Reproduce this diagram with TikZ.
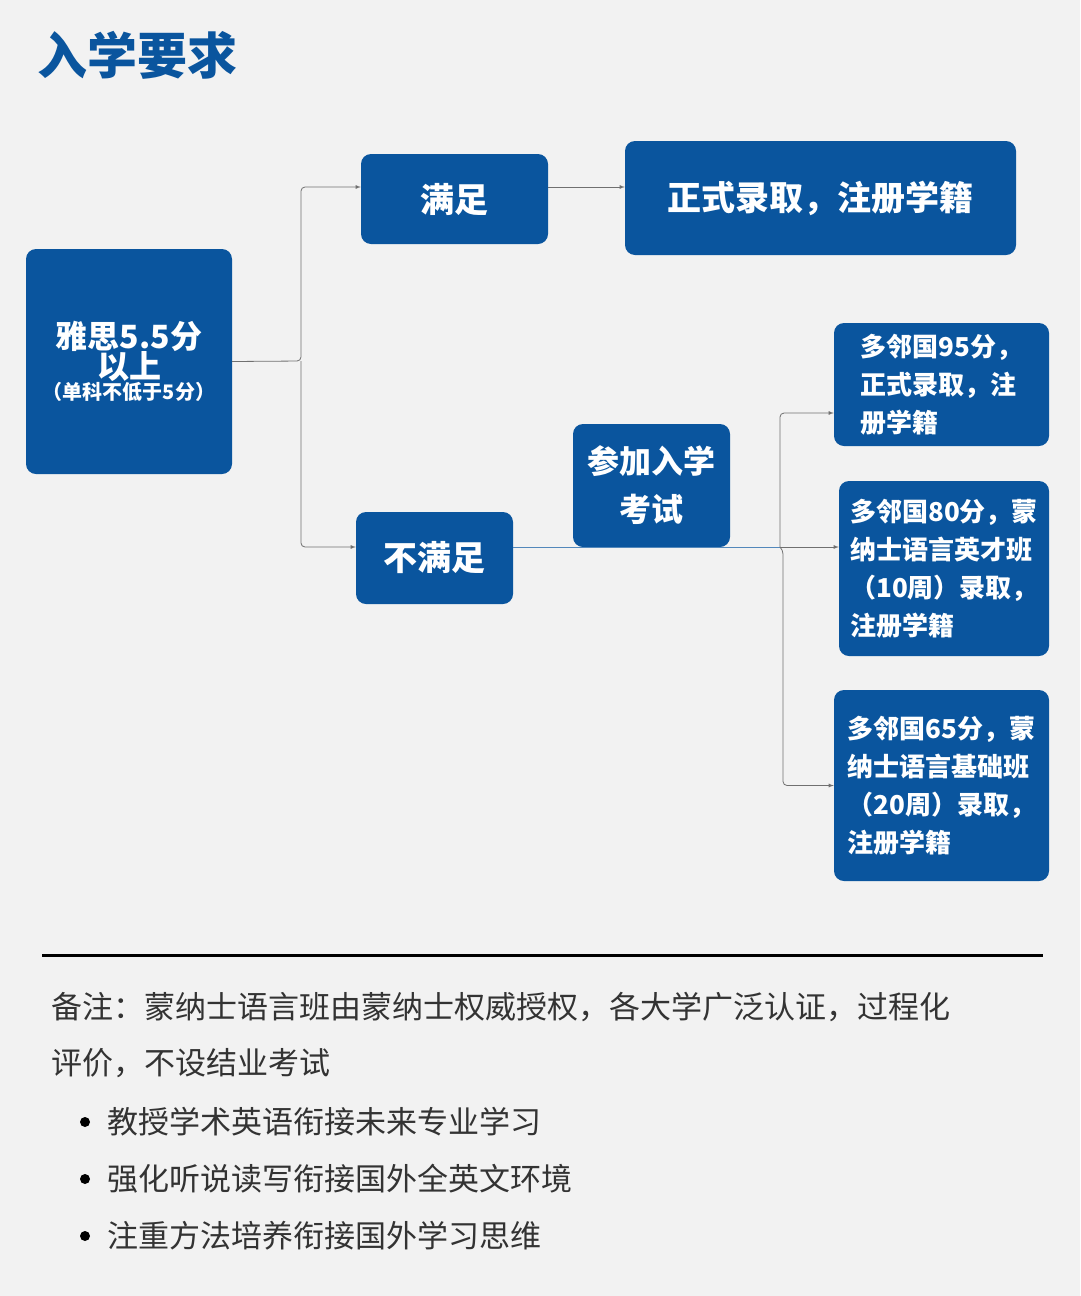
\documentclass[tikz,border=0pt]{standalone}
\usepackage{fontspec}
\setmainfont{Noto Sans CJK SC}
\newfontfamily\cjkb[BoldFont={* Bold}]{Noto Sans CJK SC}
\usetikzlibrary{positioning}
\definecolor{boxblue}{HTML}{0A559E}
\definecolor{bggray}{HTML}{F2F2F2}
\definecolor{linegray}{HTML}{707070}
\definecolor{notegray}{HTML}{333333}
\tikzset{
  bluebox/.style={fill=boxblue, rounded corners=10pt, text=white, font=\bfseries, align=center, inner sep=0pt},
  link/.style={draw=linegray, line width=0.8pt, rounded corners=4pt, -latex},
  notetext/.style={anchor=west, text=notegray, font=\fontsize{31}{38}\selectfont}
}
\begin{document}
\begin{tikzpicture}[x=1pt, y=-1pt]
  \fill[bggray] (0,0) rectangle (1080,1296);
  \useasboundingbox (0,0) rectangle (1080,1296);
  % title
  \node[anchor=west, text=boxblue, font=\fontsize{50}{56}\selectfont\bfseries] (title) at (34,55) {入学要求};
  % boxes
  \node[bluebox, minimum width=206pt, minimum height=225pt] (ielts) at (129,361.5)
    {\fontsize{32}{46}\selectfont 雅思5.5分\\[-2pt] \fontsize{32}{40}\selectfont 以上\\ \fontsize{20}{24}\selectfont （单科不低于5分）};
  \node[bluebox, minimum width=187pt, minimum height=90pt, font=\fontsize{34}{40}\selectfont\bfseries] (yes) at (454.5,199) {满足};
  \node[bluebox, minimum width=391pt, minimum height=114pt, font=\fontsize{34}{40}\selectfont\bfseries] (admit) at (820.5,198) {正式录取，注册学籍};
  \node[bluebox, minimum width=157pt, minimum height=92pt, font=\fontsize{34}{40}\selectfont\bfseries] (no) at (434.5,558) {不满足};
  \node[bluebox, minimum width=157pt, minimum height=123pt, font=\fontsize{32}{48}\selectfont\bfseries] (exam) at (651.5,485.5) {参加入学\\考试};
  \node[bluebox, minimum width=215pt, minimum height=123pt, align=left, font=\fontsize{26}{38}\selectfont\bfseries] (res1) at (941.5,384.5) {多邻国95分，\\正式录取，注\\册学籍};
  \node[bluebox, minimum width=210pt, minimum height=175pt, align=left, font=\fontsize{26}{38}\selectfont\bfseries] (res2) at (944,568.5) {多邻国80分，蒙\\纳士语言英才班\\（10周）录取，\\注册学籍};
  \node[bluebox, minimum width=215pt, minimum height=191pt, align=left, font=\fontsize{26}{38}\selectfont\bfseries] (res3) at (941.5,785.5) {多邻国65分，蒙\\纳士语言基础班\\（20周）录取，\\注册学籍};
  % connectors
  \coordinate (split) at (301,361);
  \coordinate (fork) at (780,547);
  \draw[link] (ielts.east) -- (split) |- (yes.west |- 0,187);
  \draw[link] (split) |- (no.west |- 0,547);
  \draw[link] (yes.east |- 0,187) -- (admit.west |- 0,187);
  \draw[draw=boxblue!70, line width=0.8pt] (no.east |- 0,547) -- (fork);
  \draw[link] (fork) |- (res1.west |- 0,413);
  \draw[link] (fork) -- (res2.west |- 0,547);
  \draw[link] (fork) -- (783,550) |- (res3.west);
  % note
  \draw[line width=3pt] (42,955) -- (1043,955);
  \node[notetext] (note1) at (48,1007) {备注：蒙纳士语言班由蒙纳士权威授权，各大学广泛认证，过程化};
  \node[notetext] (note2) at (48,1063) {评价，不设结业考试};
  \foreach \y/\t in {1122/教授学术英语衔接未来专业学习, 1179/强化听说读写衔接国外全英文环境, 1236/注重方法培养衔接国外学习思维}{
    \fill[black] (85,\y) circle (5pt);
    \node[notetext] at (104,\y) {\t};
  }
\end{tikzpicture}
\end{document}
